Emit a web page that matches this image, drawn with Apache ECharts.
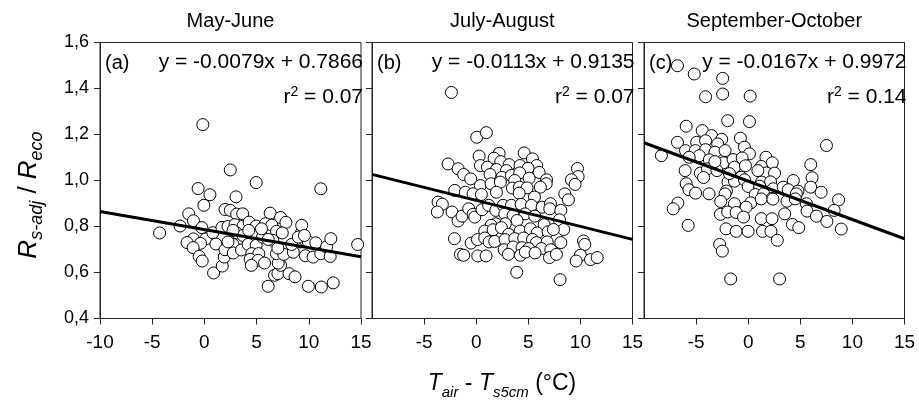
<!DOCTYPE html>
<html>
<head>
<meta charset="utf-8">
<script src="https://cdn.jsdelivr.net/npm/echarts@6/dist/echarts.min.js"></script>
<style>html,body{margin:0;padding:0;background:#fff}#c{width:919px;height:404px}</style>
</head>
<body>
<div id="c"></div>
<script>
// ---- data ----
const panelTitles = ['May-June', 'July-August', 'September-October'];
const panelTags = ['(a)', '(b)', '(c)'];
const slopes = [-0.0079, -0.0113, -0.0167];
const intercepts = [0.7866, 0.9135, 0.9972];
const slopeText = ['-0.0079', '-0.0113', '-0.0167'];
const interceptText = ['0.7866', '0.9135', '0.9972'];
const r2Text = ['0.07', '0.07', '0.14'];
const xTicks = [-10, -5, 0, 5, 10, 15];
const yTicks = [0.4, 0.6, 0.8, 1.0, 1.2, 1.4, 1.6];

const mayJuneX = [-0.15,2.48,4.96,11.15,-0.6,0.53,3.03,-0.05,1.97,2.48,-1.5,3.09,3.67,6.3,7.3,7.81,-1.05,-2.33,-4.29,-0.24,0.14,-1.05,-1.66,-0.37,-1.08,-0.5,-0.21,0.88,1.71,1.9,1.1,0.81,1.68,2.26,2.93,3.7,4.28,4.96,5.85,6.46,6.91,7.46,3.09,3.7,4.67,2.74,1.97,2.77,3.55,4.19,4.96,4.54,5.21,4.38,5.15,5.76,4.5,6.11,6.72,7.04,7.3,7.07,8.1,8.68,6.9,7.6,6.55,7.04,8.52,9.19,9.29,9.32,9.65,9.96,9.67,10.41,10.67,11.15,11.7,12.11,12.05,9.96,11.2,12.34,14.68,8.36,9.0,9.58,5.57,6.11,2.26,2.74,4.25,5.47];
const mayJuneY = [1.243,1.046,0.991,0.964,0.965,0.938,0.929,0.892,0.874,0.870,0.855,0.854,0.855,0.858,0.839,0.818,0.825,0.802,0.772,0.795,0.746,0.746,0.73,0.727,0.708,0.67,0.65,0.598,0.628,0.667,0.724,0.773,0.796,0.8,0.808,0.802,0.819,0.802,0.812,0.806,0.779,0.772,0.772,0.761,0.764,0.722,0.699,0.685,0.698,0.722,0.718,0.682,0.682,0.657,0.653,0.641,0.631,0.54,0.588,0.595,0.631,0.641,0.595,0.581,0.682,0.679,0.74,0.706,0.688,0.733,0.772,0.805,0.74,0.733,0.673,0.667,0.729,0.682,0.711,0.747,0.67,0.54,0.537,0.555,0.722,0.722,0.754,0.761,0.754,0.744,0.733,0.783,0.783,0.79];

const julyAugX = [-2.38,0.05,0.98,0.28,2.2,4.6,1.72,5.4,2.36,-2.7,0.4,3.16,4.21,5.81,1.08,1.94,-1.74,-1.2,2.9,4.98,6.04,9.72,9.78,9.14,9.49,1.33,2.48,3.38,4.18,-0.53,0.4,1.43,2.32,3.7,5.08,6.75,6.72,3.48,4.15,4.88,6.16,-2.06,-1.04,-0.3,0.5,1.94,4.12,5.59,8.5,8.85,-3.66,-3.25,-3.73,-2.32,-1.74,-1.36,-0.72,-0.3,-0.14,0.56,1.2,1.88,2.58,3.38,4.31,5.3,6.33,7.13,7.06,8.12,7.99,8.4,2.74,3.54,4.69,5.62,1.88,2.8,3.92,6.52,1.43,0.82,1.62,2.42,3.12,4.21,5.2,5.85,6.9,7.41,-2.09,-0.49,0.12,0.82,1.24,1.78,2.77,3.7,4.56,5.4,5.78,6.81,8.12,10.3,10.42,2.68,3.54,4.4,5.04,6.26,7.16,-1.52,-1.2,0.15,0.95,3.09,4.24,4.72,5.65,7.03,7.7,10.0,9.59,10.97,11.61,3.89,8.05];
const julyAugY = [1.383,1.188,1.208,1.106,1.118,1.12,1.097,1.094,1.082,1.072,1.065,1.069,1.065,1.065,1.058,1.048,1.051,1.026,1.043,1.053,1.035,1.052,1.017,1.003,0.983,1.026,1.014,1.022,1.033,1.007,0.978,0.986,0.993,1.0,1.01,1.003,0.986,0.967,0.971,0.968,0.971,0.957,0.949,0.942,0.939,0.949,0.945,0.928,0.942,0.916,0.906,0.897,0.863,0.863,0.824,0.845,0.877,0.853,0.841,0.873,0.892,0.87,0.892,0.892,0.896,0.892,0.884,0.899,0.877,0.87,0.829,0.787,0.855,0.848,0.855,0.845,0.812,0.812,0.826,0.808,0.805,0.78,0.786,0.795,0.766,0.78,0.79,0.772,0.777,0.787,0.747,0.728,0.743,0.75,0.733,0.735,0.743,0.747,0.75,0.744,0.73,0.733,0.73,0.737,0.722,0.699,0.711,0.708,0.704,0.704,0.699,0.679,0.675,0.672,0.672,0.679,0.675,0.689,0.685,0.665,0.679,0.675,0.65,0.656,0.665,0.601,0.569];

const sepOctX = [-6.79,-5.18,-2.45,-4.09,-2.45,0.19,-1.97,0.12,-5.95,-4.41,-6.79,-4.95,-3.51,-2.54,-0.75,7.51,-4.09,-2.93,-8.33,-6.02,-5.08,-4.09,-3.19,-2.22,-0.36,0.12,-4.7,-5.66,-3.73,-2.38,-1.45,-0.58,1.7,2.31,1.25,6.0,-6.05,-4.6,-3.9,-3.0,-1.32,-0.26,1.73,2.53,-4.28,-0.68,6.13,-5.95,-1.94,-1.32,-0.36,1.28,2.15,4.33,-5.69,-5.05,-3.76,-2.09,0.0,1.1,2.4,3.36,3.85,4.78,6.0,7.0,-2.22,0.68,1.48,2.28,4.62,-2.64,0.25,1.25,2.37,3.72,4.52,5.59,8.67,-6.75,-7.2,-1.32,-0.2,-2.67,-1.97,-1.16,-0.45,1.25,2.28,3.5,5.65,6.55,7.55,8.25,-5.76,-2.13,-1.16,-0.01,1.37,2.18,2.79,4.24,4.85,8.93,-2.74,-2.48,-1.68,3.01,-3.19,-1.8,0.93];
const sepOctY = [1.499,1.463,1.444,1.364,1.376,1.367,1.26,1.256,1.236,1.217,1.166,1.166,1.195,1.179,1.184,1.152,1.173,1.159,1.108,1.13,1.13,1.134,1.123,1.13,1.145,1.116,1.108,1.101,1.09,1.077,1.091,1.098,1.101,1.077,1.061,1.069,1.043,1.032,1.051,1.043,1.058,1.064,1.033,1.032,1.013,1.014,1.012,0.986,0.993,0.997,1.003,0.993,0.994,1.0,0.96,0.945,0.942,0.954,0.974,0.975,0.964,0.971,0.96,0.954,0.971,0.949,0.942,0.939,0.942,0.922,0.942,0.909,0.903,0.92,0.919,0.91,0.92,0.899,0.916,0.902,0.877,0.899,0.884,0.853,0.863,0.861,0.841,0.834,0.834,0.855,0.867,0.845,0.822,0.87,0.805,0.79,0.779,0.779,0.779,0.779,0.74,0.809,0.795,0.789,0.722,0.693,0.572,0.572,1.082,1.03,1.043];

const panelX = [mayJuneX, julyAugX, sepOctX];
const panelY = [mayJuneY, julyAugY, sepOctY];

// ---- layout ----
const FONT = "'Liberation Sans', Arial, sans-serif";
const grids = [
  {left: 100, top: 42.5, width: 261, height: 276},
  {left: 372, top: 42.5, width: 260.5, height: 276},
  {left: 644, top: 42.5, width: 260.5, height: 276}
];
const AX = '#222';

const chart = echarts.init(document.getElementById('c'), null, {renderer: 'canvas'});

const option = {
  animation: false,
  backgroundColor: '#fff',
  grid: grids.map(g => Object.assign({show: true, borderColor: AX, borderWidth: 1, backgroundColor: 'transparent'}, g)),
  xAxis: grids.map((g, i) => ({
    type: 'value', gridIndex: i, min: xTicks[0], max: xTicks[xTicks.length - 1], interval: 5,
    axisLine: {show: true, onZero: false, lineStyle: {color: AX, width: 1}},
    axisTick: {show: true, inside: false, length: 6, lineStyle: {color: AX}},
    splitLine: {show: false},
    axisLabel: {show: true, showMinLabel: i === 0, color: '#000', fontSize: 19, fontFamily: FONT, margin: 15}
  })),
  yAxis: grids.map((g, i) => ({
    type: 'value', gridIndex: i, min: yTicks[0], max: yTicks[yTicks.length - 1], interval: 0.2,
    axisLine: {show: true, onZero: false, lineStyle: {color: AX, width: 1}},
    axisTick: {show: true, inside: false, length: 6, lineStyle: {color: AX}},
    splitLine: {show: false},
    axisLabel: {show: i === 0, color: '#000', fontSize: 18, fontFamily: FONT, margin: 11,
      formatter: v => v.toFixed(1).replace('.', ',')}
  })),
  series: []
};

panelX.forEach((xs, i) => {
  option.series.push({
    type: 'scatter', xAxisIndex: i, yAxisIndex: i,
    data: xs.map((x, k) => [x, panelY[i][k]]),
    symbol: 'circle', symbolSize: 12,
    itemStyle: {color: '#fff', borderColor: '#000', borderWidth: 1, opacity: 1},
    z: 2
  });
  const ends = [xTicks[0], xTicks[xTicks.length - 1]];
  option.series.push({
    type: 'line', xAxisIndex: i, yAxisIndex: i,
    data: ends.map(x => [x, slopes[i] * x + intercepts[i]]),
    showSymbol: false, symbol: 'none',
    lineStyle: {color: '#000', width: 3},
    z: 3
  });
});

const graphics = [];
grids.forEach((g, i) => {
  graphics.push({type: 'text', x: g.left + g.width / 2, y: 21, z: 10,
    style: {text: panelTitles[i], font: '20px ' + FONT, fill: '#000', textAlign: 'center', textVerticalAlign: 'middle'}});
  graphics.push({type: 'text', x: g.left + 5, y: 63, z: 10,
    style: {text: panelTags[i], font: '20px ' + FONT, fill: '#000', textAlign: 'left', textVerticalAlign: 'middle'}});
  graphics.push({type: 'text', x: g.left + g.width + 2, y: 62, z: 10,
    style: {text: 'y = ' + slopeText[i] + 'x + ' + interceptText[i], font: '21px ' + FONT, fill: '#000', textAlign: 'right', textVerticalAlign: 'middle'}});
  graphics.push({type: 'text', x: g.left + g.width + 2, y: 97, z: 10,
    style: {text: '{a|r}{s|2}{a| = ' + r2Text[i] + '}', fill: '#000', textAlign: 'right', textVerticalAlign: 'middle',
      rich: {a: {fontSize: 21, fontFamily: FONT, lineHeight: 24, fill: '#000'},
             s: {fontSize: 14, fontFamily: FONT, lineHeight: 14, verticalAlign: 'top', fill: '#000'}}}});
});
graphics.push({type: 'text', x: 29, y: 195, rotation: Math.PI / 2, z: 10,
  style: {text: '{R|R}{sub|s-adj}{n| / }{R|R}{sub|eco}', textAlign: 'center', textVerticalAlign: 'middle',
    rich: {R: {fontSize: 26, fontFamily: FONT, fontStyle: 'italic', lineHeight: 34, fill: '#000'},
           n: {fontSize: 26, fontFamily: FONT, lineHeight: 34, fill: '#000'},
           sub: {fontSize: 18, fontFamily: FONT, fontStyle: 'italic', lineHeight: 17, verticalAlign: 'bottom', fill: '#000'}}}});
graphics.push({type: 'text', x: 502, y: 384, z: 10,
  style: {text: '{T|T}{sub|air}{n| - }{T|T}{sub|s5cm}{n| (°C)}', textAlign: 'center', textVerticalAlign: 'middle',
    rich: {T: {fontSize: 23, fontFamily: FONT, fontStyle: 'italic', lineHeight: 32, fill: '#000'},
           n: {fontSize: 23, fontFamily: FONT, lineHeight: 32, fill: '#000'},
           sub: {fontSize: 15, fontFamily: FONT, fontStyle: 'italic', lineHeight: 15, verticalAlign: 'bottom', fill: '#000'}}}});
option.graphic = graphics;

chart.setOption(option);
</script>
</body>
</html>
